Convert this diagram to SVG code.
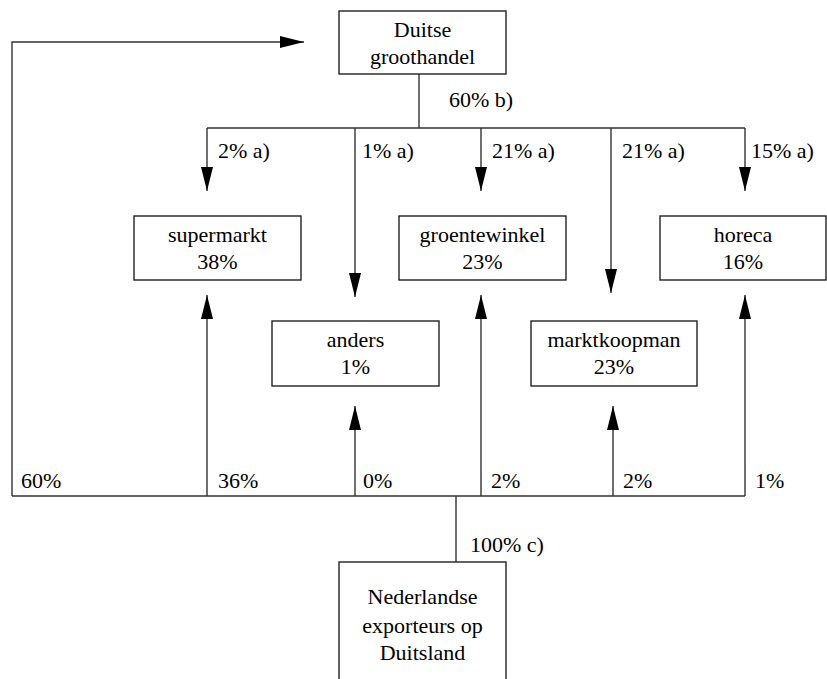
<svg xmlns="http://www.w3.org/2000/svg" width="827" height="679" viewBox="0 0 827 679">
<defs>
<marker id="ah" markerUnits="userSpaceOnUse" markerWidth="24" markerHeight="12" refX="24" refY="6" orient="auto">
<path d="M0,0 L24,6 L0,12 z" fill="#000"/>
</marker>
</defs>
<rect width="827" height="679" fill="#fff"/>
<g id="connectors" fill="none" stroke="#333" stroke-width="1.4">
<path d="M419,74 V128 M207,128 H745"/>
<path marker-end="url(#ah)" d="M207,128 V191"/>
<path marker-end="url(#ah)" d="M355,128 V297"/>
<path marker-end="url(#ah)" d="M481,128 V191"/>
<path marker-end="url(#ah)" d="M611,128 V293"/>
<path marker-end="url(#ah)" d="M745,128 V191"/>
<path d="M12,496 H745 M456,496 V562"/>
<path marker-end="url(#ah)" d="M12,496 V42 H304"/>
<path marker-end="url(#ah)" d="M207,496 V295"/>
<path marker-end="url(#ah)" d="M355,496 V406"/>
<path marker-end="url(#ah)" d="M481,496 V295"/>
<path marker-end="url(#ah)" d="M613,496 V406"/>
<path marker-end="url(#ah)" d="M745,496 V295"/>
</g>
<g id="connector-labels" fill="#000">
<text style="font-family:'Liberation Serif';font-size:22px" x="449" y="107">60% b)</text>
<text style="font-family:'Liberation Serif';font-size:22px" x="218" y="158">2% a)</text>
<text style="font-family:'Liberation Serif';font-size:22px" x="362" y="158">1% a)</text>
<text style="font-family:'Liberation Serif';font-size:22px" x="492" y="158">21% a)</text>
<text style="font-family:'Liberation Serif';font-size:22px" x="622" y="158">21% a)</text>
<text style="font-family:'Liberation Serif';font-size:22px" x="751" y="158">15% a)</text>
<text style="font-family:'Liberation Serif';font-size:22px" x="21" y="488">60%</text>
<text style="font-family:'Liberation Serif';font-size:22px" x="218" y="488">36%</text>
<text style="font-family:'Liberation Serif';font-size:22px" x="363" y="488">0%</text>
<text style="font-family:'Liberation Serif';font-size:22px" x="491" y="488">2%</text>
<text style="font-family:'Liberation Serif';font-size:22px" x="623" y="488">2%</text>
<text style="font-family:'Liberation Serif';font-size:22px" x="755" y="488">1%</text>
<text style="font-family:'Liberation Serif';font-size:22px" x="470" y="552">100% c)</text>
</g>
<g id="nodes" fill="#000" text-anchor="middle">
<g id="duitse-groothandel">
<rect x="339" y="11" width="167" height="63" fill="#fff" stroke="#222" stroke-width="1.4"/>
<text style="font-family:'Liberation Serif';font-size:22px" x="422.5" y="37">Duitse</text>
<text style="font-family:'Liberation Serif';font-size:22px" x="422.5" y="64">groothandel</text>
</g>
<g id="supermarkt">
<rect x="134" y="216" width="167" height="64" fill="#fff" stroke="#222" stroke-width="1.4"/>
<text style="font-family:'Liberation Serif';font-size:22px" x="217.5" y="242">supermarkt</text>
<text style="font-family:'Liberation Serif';font-size:22px" x="217.5" y="269">38%</text>
</g>
<g id="groentewinkel">
<rect x="399" y="216" width="167" height="64" fill="#fff" stroke="#222" stroke-width="1.4"/>
<text style="font-family:'Liberation Serif';font-size:22px" x="482.5" y="242">groentewinkel</text>
<text style="font-family:'Liberation Serif';font-size:22px" x="482.5" y="269">23%</text>
</g>
<g id="horeca">
<rect x="660" y="216" width="166" height="64" fill="#fff" stroke="#222" stroke-width="1.4"/>
<text style="font-family:'Liberation Serif';font-size:22px" x="743" y="242">horeca</text>
<text style="font-family:'Liberation Serif';font-size:22px" x="743" y="269">16%</text>
</g>
<g id="anders">
<rect x="272" y="321" width="167" height="65" fill="#fff" stroke="#222" stroke-width="1.4"/>
<text style="font-family:'Liberation Serif';font-size:22px" x="355.5" y="347">anders</text>
<text style="font-family:'Liberation Serif';font-size:22px" x="355.5" y="374">1%</text>
</g>
<g id="marktkoopman">
<rect x="531" y="321" width="166" height="65" fill="#fff" stroke="#222" stroke-width="1.4"/>
<text style="font-family:'Liberation Serif';font-size:22px" x="614" y="347">marktkoopman</text>
<text style="font-family:'Liberation Serif';font-size:22px" x="614" y="374">23%</text>
</g>
<g id="nederlandse-exporteurs">
<rect x="339" y="562" width="167" height="130" fill="#fff" stroke="#222" stroke-width="1.4"/>
<text style="font-family:'Liberation Serif';font-size:22px" x="422.5" y="604">Nederlandse</text>
<text style="font-family:'Liberation Serif';font-size:22px" x="422.5" y="633">exporteurs op</text>
<text style="font-family:'Liberation Serif';font-size:22px" x="422.5" y="660">Duitsland</text>
</g>
</g>
</svg>
